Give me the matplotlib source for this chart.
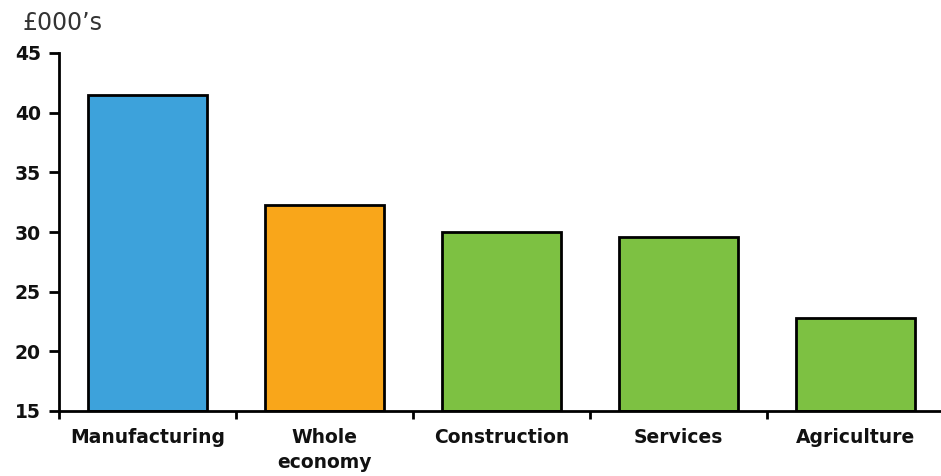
import numpy as np
import matplotlib.pyplot as plt

plt.rcParams['font.family'] = ['DejaVu Sans']

categories = ['Manufacturing', 'Whole\neconomy', 'Construction', 'Services', 'Agriculture']
values = [41.5, 32.3, 30.0, 29.6, 22.8]
colors = ['#3DA2DB', '#F9A61A', '#7DC142', '#7DC142', '#7DC142']
yticks = [15, 20, 25, 30, 35, 40, 45]

fig = plt.figure(figsize=(9.41, 4.76), dpi=100)
ax = fig.add_axes([59/941, 65/476, 885/941, 358/476])

x = np.arange(len(categories))
ax.bar(x, np.array(values) - 15, bottom=15, width=0.67, color=colors,
       edgecolor='black', linewidth=2, zorder=2)

ax.set_xlim(-0.5, len(categories) - 0.5)
ax.set_ylim(15, 45)
ax.set_yticks(yticks)
ax.set_yticklabels([str(t) for t in yticks], fontsize=13.5, fontweight='bold', color='#111111')
ax.set_xticks(x)
ax.set_xticklabels(categories, fontsize=13.5, fontweight='bold', linespacing=1.4, color='#111111')
ax.tick_params(axis='x', which='major', length=0, pad=12)
ax.set_xticks(np.arange(-0.5, len(categories) + 0.5), minor=True)
ax.tick_params(axis='x', which='minor', length=6, width=2, direction='out')
ax.tick_params(axis='y', length=7, width=2, direction='out', pad=6)

for s in ['top', 'right']:
    ax.spines[s].set_visible(False)
for s in ['left', 'bottom']:
    ax.spines[s].set_linewidth(2)

fig.text(22/941, 1 - 23/476, "£000’s", fontsize=17, va='center', ha='left', color='#333333')

fig.savefig('out.png', dpi=100)
